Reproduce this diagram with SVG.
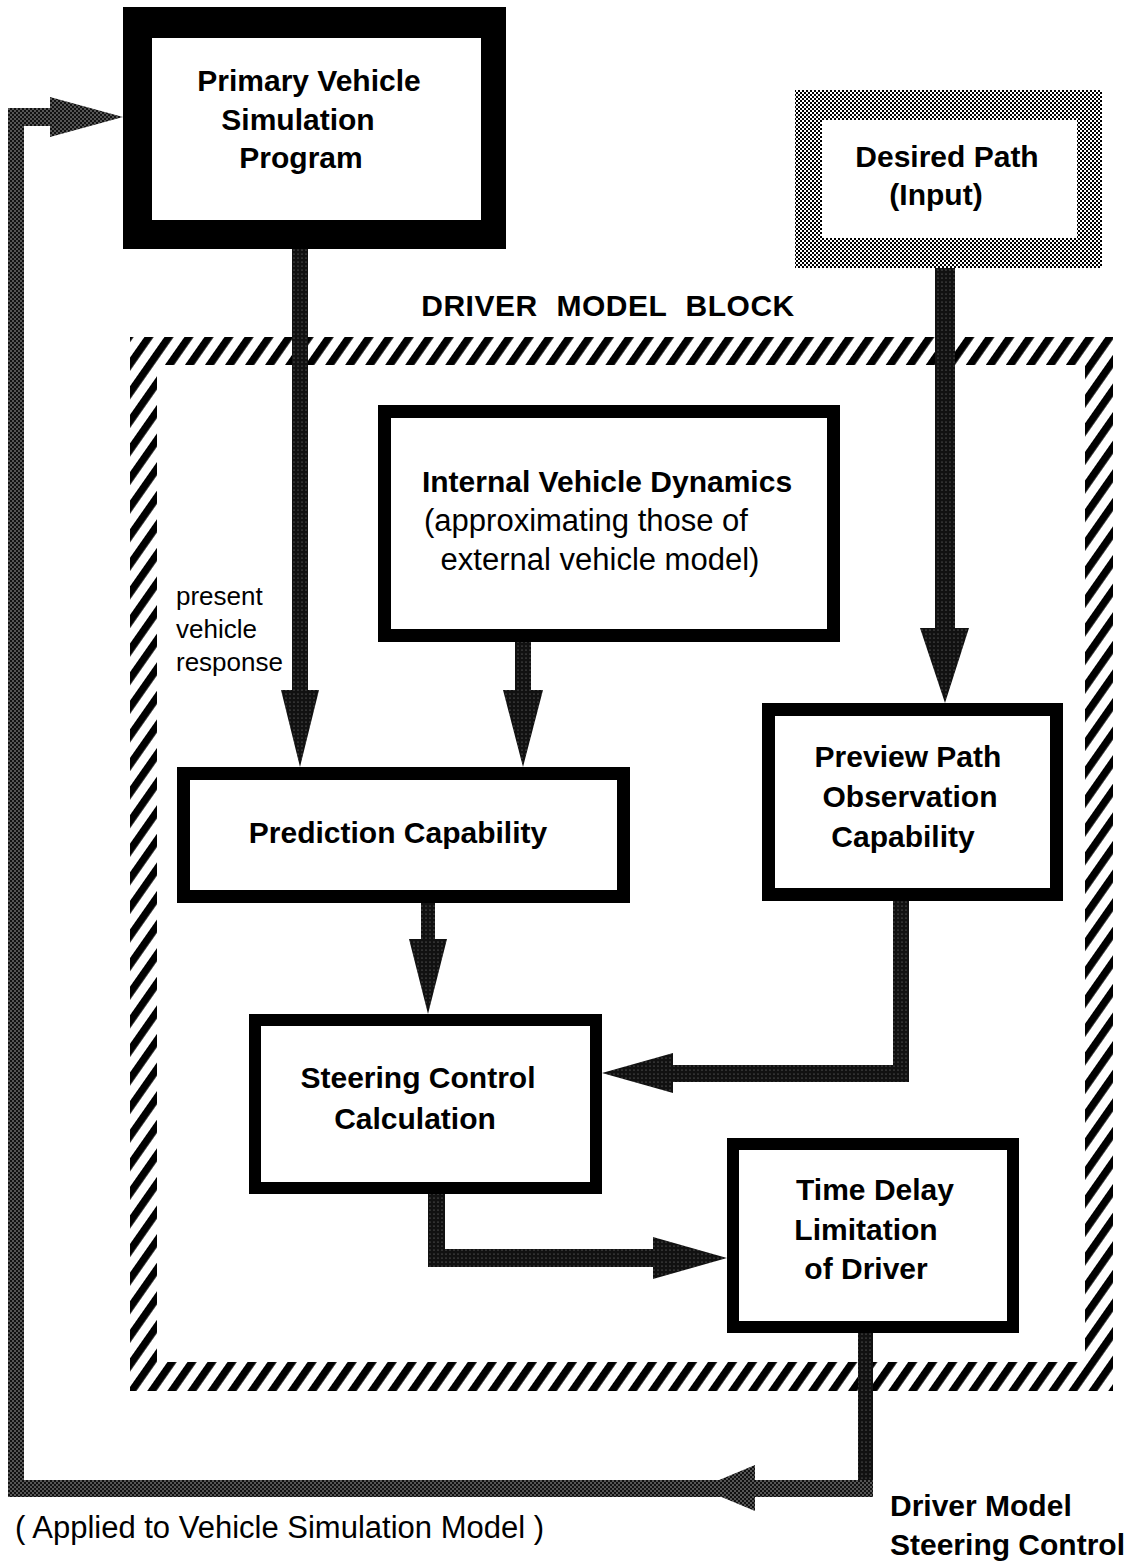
<svg xmlns="http://www.w3.org/2000/svg" width="1144" height="1562" viewBox="0 0 1144 1562">
<defs>
<pattern id="hatch" patternUnits="userSpaceOnUse" width="16.4" height="40" patternTransform="rotate(35)">
<rect x="0" y="0" width="7.5" height="40" fill="#000"/>
</pattern>
<pattern id="chk" patternUnits="userSpaceOnUse" width="4" height="4">
<rect width="4" height="4" fill="#fff"/>
<rect x="0" y="0" width="2" height="2" fill="#000"/>
<rect x="2" y="2" width="2" height="2" fill="#000"/>
</pattern>
<pattern id="dk" patternUnits="userSpaceOnUse" width="4" height="4">
<rect width="4" height="4" fill="#111"/>
<circle cx="2" cy="2" r="0.6" fill="#888"/>
</pattern>
<pattern id="gry" patternUnits="userSpaceOnUse" width="4" height="4">
<rect width="4" height="4" fill="#111"/>
<circle cx="1" cy="1" r="0.7" fill="#ccc"/>
<circle cx="3" cy="3" r="0.7" fill="#ccc"/>
</pattern>
</defs>
<style>
.b{font-family:"Liberation Sans",Arial,sans-serif;font-weight:bold;font-size:30px;fill:#000;text-anchor:middle}
.r{font-family:"Liberation Sans",Arial,sans-serif;font-size:31px;fill:#000;text-anchor:middle}
.s{font-family:"Liberation Sans",Arial,sans-serif;font-size:26px;fill:#000}
.frame{fill:#000}
.inner{fill:#fff}
.dk{fill:url(#dk)}
.gr{fill:url(#gry)}
</style>
<rect width="1144" height="1562" fill="#fff"/>

<g id="driver-model-block">
<path d="M130 337 H1113 V1391 H130 Z M157 365 V1362 H1085 V365 Z" fill="url(#hatch)" fill-rule="evenodd"/>
<text class="b" x="608" y="316" style="word-spacing:10px;letter-spacing:0.5px">DRIVER MODEL BLOCK</text>
</g>

<g id="primary-vehicle">
<rect class="frame" x="123" y="7" width="383" height="242"/>
<rect class="inner" x="152" y="38" width="329" height="182"/>
<text class="b" x="309" y="91">Primary Vehicle</text>
<text class="b" x="298" y="130">Simulation</text>
<text class="b" x="301" y="168">Program</text>
</g>

<g id="desired-path">
<rect x="795" y="90" width="307" height="178" fill="url(#chk)"/>
<rect class="inner" x="822" y="120" width="255" height="118"/>
<text class="b" x="947" y="167">Desired Path</text>
<text class="b" x="936" y="205">(Input)</text>
</g>

<g id="internal-dynamics">
<rect class="frame" x="378" y="405" width="462" height="237"/>
<rect class="inner" x="391" y="418" width="436" height="211"/>
<text class="b" x="607" y="492">Internal Vehicle Dynamics</text>
<text class="r" x="586" y="531">(approximating those of</text>
<text class="r" x="600" y="570">external vehicle model)</text>
</g>

<g id="prediction">
<rect class="frame" x="177" y="767" width="453" height="136"/>
<rect class="inner" x="190" y="780" width="427" height="110"/>
<text class="b" x="398" y="843">Prediction Capability</text>
</g>

<g id="preview-path">
<rect class="frame" x="762" y="703" width="301" height="198"/>
<rect class="inner" x="775" y="716" width="275" height="172"/>
<text class="b" x="908" y="767">Preview Path</text>
<text class="b" x="910" y="807">Observation</text>
<text class="b" x="903" y="847">Capability</text>
</g>

<g id="steering">
<rect class="frame" x="249" y="1014" width="353" height="180"/>
<rect class="inner" x="261" y="1026" width="329" height="156"/>
<text class="b" x="418" y="1088">Steering Control</text>
<text class="b" x="415" y="1129">Calculation</text>
</g>

<g id="time-delay">
<rect class="frame" x="727" y="1138" width="292" height="195"/>
<rect class="inner" x="739" y="1150" width="268" height="171"/>
<text class="b" x="875" y="1200">Time Delay</text>
<text class="b" x="866" y="1240">Limitation</text>
<text class="b" x="866" y="1279">of Driver</text>
</g>

<g id="connectors">
<path class="dk" d="M292 249 H308 V690 H319 L300 767 L281 690 H292 Z"/>
<path class="dk" d="M515 642 H531 V690 H543 L523 767 L503 690 H515 Z"/>
<path class="dk" d="M935 268 H955 V628 H969 L945 703 L920 628 H935 Z"/>
<path class="dk" d="M421 903 H435 V939 H447 L428 1014 L409 939 H421 Z"/>
<path class="dk" d="M893 901 H909 V1082 H673 V1093 L602 1073 L673 1053 V1065 H893 Z"/>
<path class="dk" d="M428 1194 H445 V1249 H653 V1237 L727 1258 L653 1279 V1267 H428 Z"/>
<rect class="dk" x="858" y="1333" width="15" height="150"/>
<path class="gr" d="M873 1480 V1497 H8 V108 H50 V97 L123 117 L50 137 V126 H24 V1480 Z"/>
<path class="gr" d="M755 1465 L700 1488 L755 1511 Z"/>
<text class="s" x="176" y="605">present</text>
<text class="s" x="176" y="638">vehicle</text>
<text class="s" x="176" y="671">response</text>
<text class="r" x="15" y="1538" style="text-anchor:start">( Applied to Vehicle Simulation Model )</text>
<text class="b" x="890" y="1516" style="text-anchor:start">Driver Model</text>
<text class="b" x="890" y="1555" style="text-anchor:start">Steering Control</text>
</g>
</svg>
